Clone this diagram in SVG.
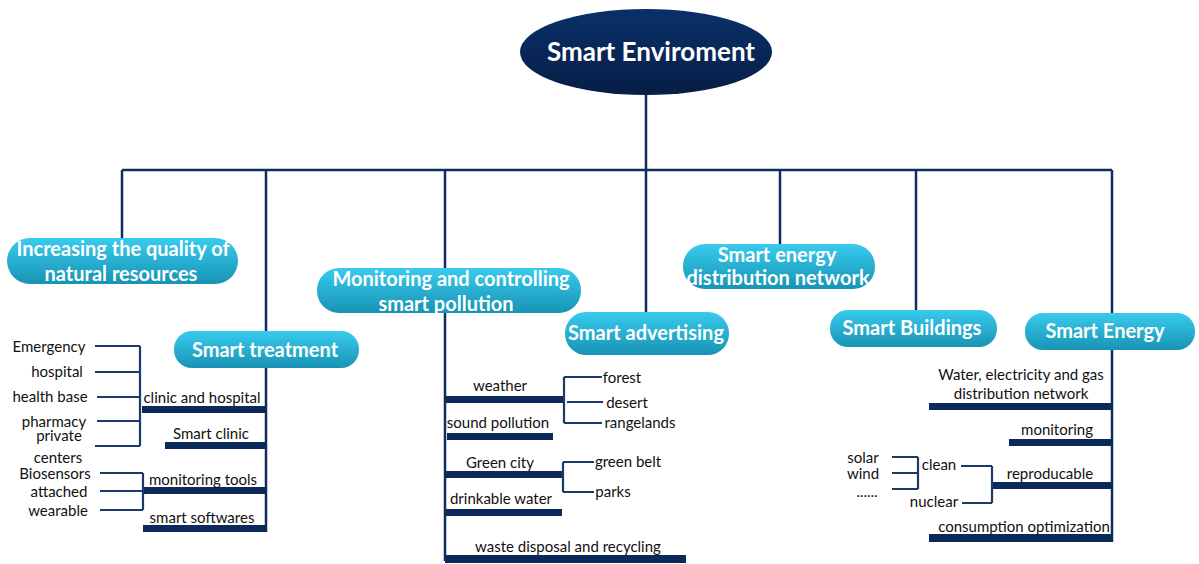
<svg xmlns="http://www.w3.org/2000/svg" width="1199" height="564" viewBox="0 0 1199 564">
<style>
.bg{fill:#ffffff}
.trunk{stroke:#0f2d5e;stroke-width:2.5;fill:none}
.br{stroke:#1b3a6b;stroke-width:2.2;fill:none}
.bar{fill:#0b2a5a}
.node rect{fill:url(#cyan)}
.nt{font-family:Lato,"Liberation Sans",sans-serif;font-weight:bold;font-size:20px;fill:#ffffff;text-anchor:middle}
.rt{font-size:26px}
.lt{font-family:Lato,"Liberation Sans",sans-serif;font-size:15px;fill:#111111;text-anchor:middle}
</style>
<defs>
<linearGradient id="cyan" x1="0" y1="0" x2="0" y2="1">
<stop offset="0" stop-color="#38cbee"/>
<stop offset="1" stop-color="#1893b4"/>
</linearGradient>
<linearGradient id="navy" x1="0" y1="0" x2="0" y2="1">
<stop offset="0" stop-color="#0a306a"/>
<stop offset="1" stop-color="#071e46"/>
</linearGradient>
</defs>
<rect class="bg" x="0" y="0" width="1199" height="564"/>

<g id="connectors">
<path class="trunk" d="M646 95V170M122 170H1112M122 170V238M266 170V331M445 170V268M646 170V312M780 170V244M916 170V310M1112 170V313"/>
<path class="trunk" d="M266 368V532M445 313V561M1112 350V542"/>
<rect class="bar" x="142" y="406" width="125" height="7"/>
<rect class="bar" x="165" y="442" width="102" height="7"/>
<rect class="bar" x="143" y="487" width="124" height="7"/>
<rect class="bar" x="143" y="525" width="124" height="7"/>
<path class="br" d="M95 346H140M95 372H140M97 397H140M97 421H140M95 446H140M140 346V446"/>
<path class="br" d="M100 473H143M100 491H143M100 510H143M143 473V510"/>
<rect class="bar" x="445" y="396" width="120" height="7"/>
<rect class="bar" x="447" y="433" width="106" height="7"/>
<rect class="bar" x="445" y="471" width="117" height="7"/>
<rect class="bar" x="445" y="509" width="117" height="7"/>
<rect class="bar" x="445" y="555" width="241" height="8"/>
<path class="br" d="M564 377H602M567 402H603M564 423H602M564 377V423"/>
<path class="br" d="M563 462H594M563 492H594M563 462V492"/>
<rect class="bar" x="929" y="403" width="184" height="7"/>
<rect class="bar" x="1009" y="439" width="104" height="7"/>
<rect class="bar" x="992" y="482" width="121" height="7"/>
<rect class="bar" x="929" y="534" width="184" height="8"/>
<path class="br" d="M961 466H992M962 503H992M992 466V503"/>
<path class="br" d="M892 457H918M892 473H918M892 489H918M918 457V489"/>
</g>

<g id="root">
<ellipse cx="646" cy="52" rx="126" ry="43" fill="url(#navy)"/>
<text class="nt rt" x="651" y="61">Smart Enviroment</text>
</g>

<g id="n-natural" class="node">
<rect x="7" y="238" width="231" height="46" rx="23"/>
<text class="nt" x="123" y="256">Increasing the quality of</text>
<text class="nt" x="121" y="281">natural resources</text>
</g>
<g id="n-treatment" class="node">
<rect x="174" y="331" width="185" height="37" rx="18"/>
<text class="nt" x="265" y="357">Smart treatment</text>
</g>
<g id="n-pollution" class="node">
<rect x="317" y="268" width="264" height="45" rx="22"/>
<text class="nt" x="451" y="286">Monitoring and controlling</text>
<text class="nt" x="446" y="311">smart pollution</text>
</g>
<g id="n-advertising" class="node">
<rect x="565" y="312" width="164" height="43" rx="21"/>
<text class="nt" x="646" y="340">Smart advertising</text>
</g>
<g id="n-distribution" class="node">
<rect x="683" y="244" width="192" height="45" rx="22"/>
<text class="nt" x="777" y="262">Smart energy</text>
<text class="nt" x="778" y="285">distribution network</text>
</g>
<g id="n-buildings" class="node">
<rect x="830" y="310" width="167" height="37" rx="18"/>
<text class="nt" x="912" y="335">Smart Buildings</text>
</g>
<g id="n-energy" class="node">
<rect x="1025" y="313" width="170" height="37" rx="18"/>
<text class="nt" x="1105" y="338">Smart Energy</text>
</g>

<g id="l-emergency"><text class="lt" x="49" y="352">Emergency</text></g>
<g id="l-hospital"><text class="lt" x="57" y="377">hospital</text></g>
<g id="l-healthbase"><text class="lt" x="50" y="402">health base</text></g>
<g id="l-pharmacy"><text class="lt" x="54" y="427">pharmacy</text></g>
<g id="l-private"><text class="lt" x="59" y="441">private</text></g>
<g id="l-centers"><text class="lt" x="58" y="463">centers</text></g>
<g id="l-biosensors"><text class="lt" x="55" y="479">Biosensors</text></g>
<g id="l-attached"><text class="lt" x="59" y="497">attached</text></g>
<g id="l-wearable"><text class="lt" x="58" y="516">wearable</text></g>
<g id="l-clinichospital"><text class="lt" x="202" y="403">clinic and hospital</text></g>
<g id="l-smartclinic"><text class="lt" x="211" y="439">Smart clinic</text></g>
<g id="l-montools"><text class="lt" x="203" y="485">monitoring tools</text></g>
<g id="l-softwares"><text class="lt" x="202" y="523">smart softwares</text></g>

<g id="l-weather"><text class="lt" x="500" y="391">weather</text></g>
<g id="l-forest"><text class="lt" x="622" y="383">forest</text></g>
<g id="l-desert"><text class="lt" x="627" y="408">desert</text></g>
<g id="l-rangelands"><text class="lt" x="640" y="428">rangelands</text></g>
<g id="l-sound"><text class="lt" x="498" y="428">sound pollution</text></g>
<g id="l-greencity"><text class="lt" x="500" y="468">Green city</text></g>
<g id="l-greenbelt"><text class="lt" x="628" y="467">green belt</text></g>
<g id="l-parks"><text class="lt" x="613" y="497">parks</text></g>
<g id="l-drinkable"><text class="lt" x="501" y="504">drinkable water</text></g>
<g id="l-waste"><text class="lt" x="568" y="552">waste disposal and recycling</text></g>

<g id="l-water"><text class="lt" x="1021" y="380">Water, electricity and gas</text><text class="lt" x="1021" y="399">distribution network</text></g>
<g id="l-monitoring"><text class="lt" x="1057" y="435">monitoring</text></g>
<g id="l-reproducable"><text class="lt" x="1050" y="479">reproducable</text></g>
<g id="l-clean"><text class="lt" x="939" y="470">clean</text></g>
<g id="l-nuclear"><text class="lt" x="934" y="507">nuclear</text></g>
<g id="l-solar"><text class="lt" x="863" y="463">solar</text></g>
<g id="l-wind"><text class="lt" x="863" y="479">wind</text></g>
<g id="l-dots"><text class="lt" x="867" y="497">......</text></g>
<g id="l-consumption"><text class="lt" x="1024" y="532">consumption optimization</text></g>
</svg>
